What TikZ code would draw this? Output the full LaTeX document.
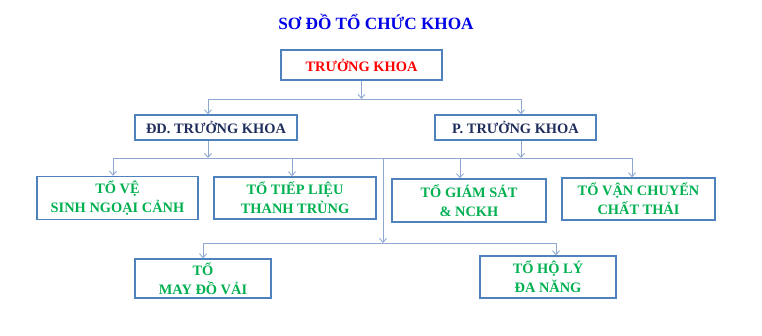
\documentclass[tikz,border=0pt]{standalone}
\usepackage{fontspec}
\setmainfont{Liberation Serif}
\usetikzlibrary{arrows.meta}
\definecolor{boxblue}{HTML}{4F81BD}
\definecolor{linkblue}{HTML}{8EA8D2}
\definecolor{titleblue}{HTML}{0000E6}
\definecolor{headred}{HTML}{FF0000}
\definecolor{deputynavy}{HTML}{1F2D5C}
\definecolor{teamgreen}{HTML}{00B050}

\begin{document}
\begin{tikzpicture}[x=1pt, y=-1pt,
    unit/.style={draw=boxblue, line width=1.4pt, inner sep=0pt, align=center,
      font=\bfseries\fontsize{14.4}{19}\selectfont},
    team/.style={unit, text=teamgreen},
    link/.style={draw=linkblue, line width=0.9pt},
    linkarr/.style={link, -{Straight Barb[length=4pt,width=7pt]}}]
    \useasboundingbox (0,0) rectangle (762,335);

    % Title
    \node[font=\bfseries\fontsize{17.2}{20}\selectfont, text=titleblue] (title) at (376,22) {SƠ ĐỒ TỔ CHỨC KHOA};

    % Head of department
    \node[unit, minimum width=161pt, minimum height=30pt, text=headred] (truong) at (361.5,65) {TRƯỞNG KHOA};

    % Deputies
    \node[unit, minimum width=162pt, minimum height=25pt, text=deputynavy] (dd) at (216,127.5) {ĐD. TRƯỞNG KHOA};
    \node[unit, minimum width=161pt, minimum height=25pt, text=deputynavy] (pho) at (515.5,127.5) {P. TRƯỞNG KHOA};

    % Teams, first row
    \node[team, minimum width=161pt, minimum height=43pt] (ve) at (117.5,198) {TỔ VỆ\\SINH NGOẠI CẢNH};
    \node[team, minimum width=162pt, minimum height=42pt] (tiep) at (295,198) {TỔ TIẾP LIỆU\\THANH TRÙNG};
    \node[team, minimum width=154pt, minimum height=43pt] (giam) at (469,200.5) {TỔ GIÁM SÁT\\\& NCKH};
    \node[team, minimum width=153pt, minimum height=42pt] (van) at (638.5,199) {TỔ VẬN CHUYỂN\\CHẤT THẢI};

    % Teams, second row
    \node[team, minimum width=136pt, minimum height=39pt] (may) at (203,278.5) {TỔ\\MAY ĐỒ VẢI};
    \node[team, minimum width=136pt, minimum height=42pt] (holy) at (548,277) {TỔ HỘ LÝ\\ĐA NĂNG};

    % Bus lines
    \coordinate (busa) at (361.5,99);
    \coordinate (busb) at (383,158);
    \coordinate (busc) at (383,243);
    \coordinate (ddx) at (208,99);
    \coordinate (phox) at (521,99);
    \coordinate (vex) at (113,158);
    \coordinate (tiepx) at (292,158);
    \coordinate (giamx) at (460,158);
    \coordinate (vanx) at (632,158);
    \coordinate (mayx) at (203,243);
    \coordinate (holyx) at (556,243);

    % Arrows
    \draw[linkarr] (truong) -- (busa);
    \draw[link] (ddx) -- (phox);
    \draw[linkarr] (ddx) -- (ddx |- dd.north);
    \draw[linkarr] (phox) -- (phox |- pho.north);

    \draw[linkarr] (ddx |- dd.south) -- (ddx |- busb);
    \draw[linkarr] (phox |- pho.south) -- (phox |- busb);
    \draw[link] (vex) -- (vanx);
    \draw[linkarr] (vex) -- (vex |- ve.north);
    \draw[linkarr] (tiepx) -- (tiepx |- tiep.north);
    \draw[linkarr] (giamx) -- (giamx |- giam.north);
    \draw[linkarr] (vanx) -- (vanx |- van.north);

    \draw[linkarr] (busb) -- (busc);
    \draw[link] (mayx) -- (holyx);
    \draw[linkarr] (mayx) -- (may);
    \draw[linkarr] (holyx) -- (holyx |- holy.north);
\end{tikzpicture}
\end{document}
